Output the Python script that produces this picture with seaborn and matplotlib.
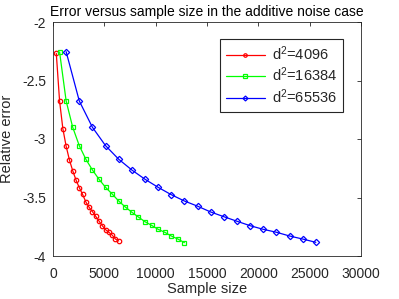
import matplotlib
matplotlib.use("Agg")
import matplotlib.pyplot as plt
import seaborn as sns
import pandas as pd

labels = ["d$^2$=4096", "d$^2$=16384", "d$^2$=65536"]
x_4096 = [320, 640, 960, 1280, 1600, 1920, 2240, 2560, 2880, 3200,
          3520, 3840, 4160, 4480, 4800, 5120, 5440, 5760, 6080, 6400]
y_4096 = [-2.268, -2.675, -2.912, -3.062, -3.179, -3.271, -3.350, -3.416, -3.473, -3.538,
          -3.584, -3.621, -3.661, -3.701, -3.741, -3.775, -3.797, -3.821, -3.855, -3.872]
x_16384 = [640, 1280, 1920, 2560, 3200, 3840, 4480, 5120, 5760, 6400,
           7040, 7680, 8320, 8960, 9600, 10240, 10880, 11520, 12160, 12800]
y_16384 = [-2.256, -2.675, -2.900, -3.057, -3.173, -3.265, -3.344, -3.413, -3.470, -3.530,
           -3.581, -3.626, -3.667, -3.707, -3.738, -3.772, -3.797, -3.829, -3.855, -3.886]
x_65536 = [1280, 2560, 3840, 5120, 6400, 7680, 8960, 10240, 11520, 12800,
           14080, 15360, 16640, 17920, 19200, 20480, 21760, 23040, 24320, 25600]
y_65536 = [-2.254, -2.675, -2.900, -3.057, -3.173, -3.265, -3.344, -3.413, -3.476, -3.530,
           -3.574, -3.624, -3.664, -3.703, -3.741, -3.772, -3.797, -3.829, -3.855, -3.883]
colors = ["#ff0000", "#00ff00", "#0000ff"]
markers = ["o", "s", "D"]
x_ticks = [0, 5000, 10000, 15000, 20000, 25000, 30000]
y_ticks = [-4, -3.5, -3, -2.5, -2]

sns.set_style("white")
plt.rcParams["font.family"] = ["Liberation Sans", "DejaVu Sans"]
plt.rcParams["mathtext.fontset"] = "custom"
plt.rcParams["mathtext.rm"] = "Liberation Sans"
plt.rcParams["mathtext.it"] = "Liberation Sans"
plt.rcParams["mathtext.default"] = "rm"

frames = []
for lab, xs, ys in zip(labels, [x_4096, x_16384, x_65536], [y_4096, y_16384, y_65536]):
    frames.append(pd.DataFrame({"Sample size": xs, "Relative error": ys, "series": lab}))
df = pd.concat(frames, ignore_index=True)

fig = plt.figure(figsize=(3.99, 2.99), dpi=100)
ax = fig.add_axes([53/399, 1-256/299, (361-53)/399, (256-22)/299])

sns.lineplot(data=df, x="Sample size", y="Relative error", hue="series", style="series",
             palette=dict(zip(labels, colors)), markers=dict(zip(labels, markers)),
             dashes=False, ax=ax, linewidth=0.9, markersize=3.2,
             markerfacecolor="none", markeredgewidth=0.9, sort=False)
for line, c in zip(ax.get_lines(), colors):
    line.set_markeredgecolor(c)

ax.set_xlim(0, 30000)
ax.set_ylim(-4, -2)
ax.set_xticks(x_ticks)
ax.set_xticklabels([str(v) for v in x_ticks])
ax.set_yticks(y_ticks)
ax.set_yticklabels(["-4", "-3.5", "-3", "-2.5", "-2"])
ax.tick_params(direction="in", length=3, width=0.6, top=True, right=True,
               labelsize=10, colors="#262626", labelcolor="#262626")
ax.tick_params(axis="x", pad=8)
ax.tick_params(axis="y", pad=5)
for s in ax.spines.values():
    s.set_color("#262626")
    s.set_linewidth(0.6)
ax.set_xlabel("Sample size", fontsize=10.5, color="#262626", labelpad=0.5)
ax.set_ylabel("Relative error", fontsize=10.5, color="#262626", labelpad=6)
ax.set_title("Error versus sample size in the additive noise case", fontsize=10,
             color="black", pad=4)

handles, labs = ax.get_legend_handles_labels()
for h, c in zip(handles, colors):
    h.set_markerfacecolor("none")
    h.set_markeredgecolor(c)
    h.set_markersize(2.5)
leg = ax.legend(handles, labs, loc="upper right",
                fontsize=10.5, frameon=True, fancybox=False, framealpha=1,
                edgecolor="#262626", handlelength=2.7, borderpad=0.42,
                labelspacing=0.18, handletextpad=0.45, borderaxespad=0)
leg.get_frame().set_linewidth(0.8)
inv = ax.transAxes.inverted()
rx, ty = inv.transform((343, 299 - 38.5))
leg.set_bbox_to_anchor((rx, ty), transform=ax.transAxes)

fig.savefig("out.png", dpi=100)
